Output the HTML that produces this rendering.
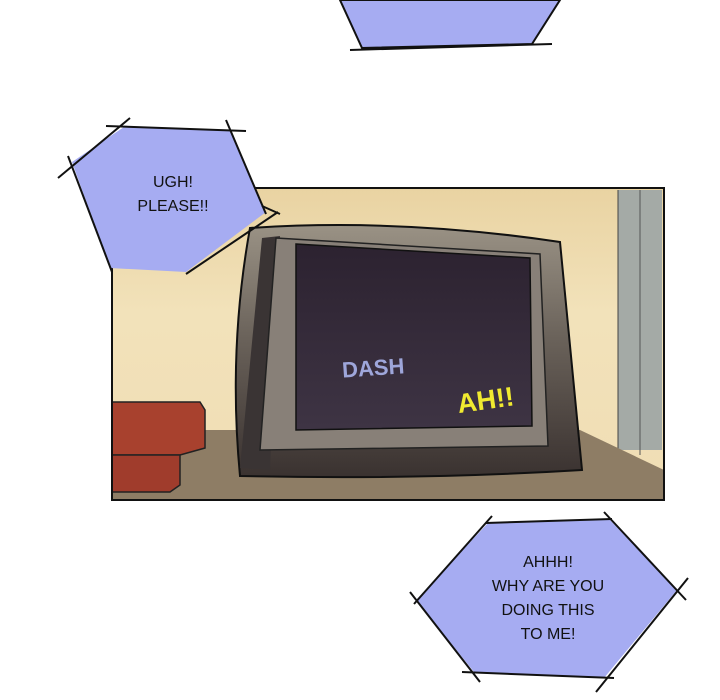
<!DOCTYPE html>
<html><head><style>body{margin:0;background:#fff}svg{display:block}</style></head><body>
<svg width="720" height="700" viewBox="0 0 720 700" xmlns="http://www.w3.org/2000/svg">
<defs>
<linearGradient id="wall" x1="0" y1="0" x2="0" y2="1"><stop offset="0" stop-color="#e9d3a2"/><stop offset="0.4" stop-color="#f2e2ba"/><stop offset="1" stop-color="#f0ddb4"/></linearGradient>
<linearGradient id="tv" x1="0" y1="0" x2="0" y2="1"><stop offset="0" stop-color="#9a9285"/><stop offset="0.45" stop-color="#6a625a"/><stop offset="1" stop-color="#3a3230"/></linearGradient>
<linearGradient id="scr" x1="0" y1="0" x2="0" y2="1"><stop offset="0" stop-color="#2c2230"/><stop offset="1" stop-color="#3e3444"/></linearGradient>
</defs>
<rect width="720" height="700" fill="#fff"/>
<polygon points="340,0 560,0 532,44 362,48" fill="#a6acf2" stroke="#111" stroke-width="2"/>
<line x1="350" y1="50" x2="552" y2="44" stroke="#111" stroke-width="2"/>
<text x="450" y="-1" font-family="Liberation Sans,sans-serif" font-size="15" text-anchor="middle" fill="#111">D ANAAAAA!</text>
<rect x="112" y="188" width="552" height="312" fill="url(#wall)"/>
<rect x="618" y="190" width="44" height="260" fill="#a4aaa6"/>
<line x1="640" y1="190" x2="640" y2="455" stroke="#555" stroke-width="1"/>
<line x1="618" y1="190" x2="618" y2="450" stroke="#444" stroke-width="1"/>
<polygon points="112,430 580,430 664,470 664,500 112,500" fill="#8e7d65"/>
<polygon points="112,402 200,402 205,410 205,448 180,455 112,455" fill="#a8412e" stroke="#222" stroke-width="1.5"/>
<polygon points="112,455 180,455 180,485 170,492 112,492" fill="#a03c2c" stroke="#222" stroke-width="1.5"/>
<path d="M250,228 Q400,218 560,242 L582,470 Q420,480 240,476 Q228,350 250,228Z" fill="url(#tv)" stroke="#111" stroke-width="2"/>
<polygon points="262,238 280,236 270,470 240,468" fill="#3a3434"/>
<polygon points="276,238 540,254 548,446 260,450" fill="#888078" stroke="#222" stroke-width="1.5"/>
<polygon points="296,244 530,258 532,426 296,430" fill="url(#scr)" stroke="#111" stroke-width="1.5"/>
<text x="342" y="376" font-family="Liberation Sans,sans-serif" font-weight="bold" font-size="22" fill="#9ea6da" transform="rotate(-4 365 368)">DASH</text>
<text x="457" y="410" font-family="Liberation Sans,sans-serif" font-weight="bold" font-size="27" fill="#f0ea30" transform="rotate(-8 480 400)">AH!!</text>
<rect x="112" y="188" width="552" height="312" fill="none" stroke="#111" stroke-width="2"/>
<polygon points="72,162 124,127 230,130 266,212 186,272 110,268" fill="#a6acf2" stroke="none"/>
<g stroke="#111" stroke-width="2" fill="none">
<line x1="58" y1="178" x2="130" y2="118"/><line x1="106" y1="126" x2="246" y2="131"/>
<line x1="226" y1="120" x2="266" y2="214"/><line x1="68" y1="156" x2="112" y2="272"/>
<line x1="262" y1="206" x2="280" y2="214"/><line x1="278" y1="212" x2="186" y2="274"/>
</g>
<text font-family="Liberation Sans,sans-serif" font-size="16" text-anchor="middle" fill="#111"><tspan x="173" y="187">UGH!</tspan><tspan x="173" y="211">PLEASE!!</tspan></text>
<polygon points="416,600 488,523 609,519 677,590 604,678 474,672" fill="#a6acf2" stroke="none"/>
<g stroke="#111" stroke-width="2" fill="none">
<line x1="492" y1="516" x2="414" y2="604"/><line x1="486" y1="523" x2="612" y2="519"/>
<line x1="604" y1="512" x2="686" y2="600"/><line x1="688" y1="578" x2="596" y2="692"/>
<line x1="410" y1="592" x2="480" y2="682"/><line x1="462" y1="672" x2="614" y2="678"/>
</g>
<text font-family="Liberation Sans,sans-serif" font-size="16" text-anchor="middle" fill="#111"><tspan x="548" y="567">AHHH!</tspan><tspan x="548" y="591">WHY ARE YOU</tspan><tspan x="548" y="615">DOING THIS</tspan><tspan x="548" y="639">TO ME!</tspan></text>
</svg>
</body></html>
